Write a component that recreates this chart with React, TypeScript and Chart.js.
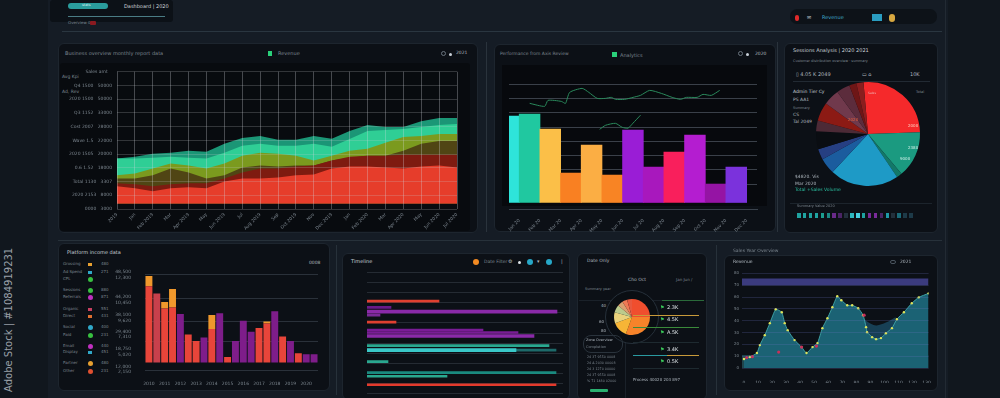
import React, { useEffect, useRef } from 'react';
import { Chart, registerables } from 'chart.js';
Chart.register(...registerables);

const FONT = "'DejaVu Sans', sans-serif";
const TXT = '#aeb6be';
const DIM = '#7c868f';

// ---------- Chart 1: layered areas ----------
const C1_LABELS = ['2019', 'Jan', 'Feb 2019', 'Mar', 'Apr 2019', 'May', 'Jun 2019', 'Jul', 'Aug 2019', 'Sep', 'Oct 2019', 'Nov', 'Dec 2019', 'Jan', 'Feb 2020', 'Mar', 'Apr 2020', 'May', 'Jun 2020', 'Jul 2020'];
const C1_RED = [1.65, 1.51, 1.29, 1.51, 1.58, 1.51, 2.01, 2.23, 2.23, 2.3, 2.45, 2.52, 2.95, 3.09, 3.09, 3.02, 2.95, 3.09, 3.17, 3.02];
const C1_DARKRED = [1.87, 1.8, 1.65, 1.8, 1.87, 1.87, 2.23, 2.66, 2.95, 2.95, 3.09, 3.17, 3.53, 3.81, 3.88, 3.88, 3.96, 3.96, 3.96, 3.96];
const C1_BROWN = [2.23, 2.23, 2.45, 2.95, 2.66, 2.23, 2.45, 3.02, 3.17, 3.09, 3.17, 3.17, 3.53, 3.74, 3.88, 3.88, 4.24, 4.75, 4.96, 4.96];
const C1_OLIVE = [2.45, 2.59, 2.95, 3.31, 3.17, 2.95, 3.31, 3.88, 4.1, 4.03, 3.88, 3.53, 3.88, 4.24, 4.39, 4.82, 5.25, 5.32, 5.47, 5.47];
const C1_GREEN = [3.67, 3.67, 3.74, 3.81, 3.74, 3.67, 4.1, 4.6, 4.75, 4.6, 4.6, 4.75, 4.53, 5.1, 5.68, 5.76, 5.83, 5.97, 6.12, 6.19];
const C1_TEAL = [3.67, 3.81, 4.03, 4.1, 4.24, 4.17, 4.75, 5.18, 5.32, 5.04, 5.04, 5.32, 5.11, 5.68, 6.12, 5.97, 5.97, 6.4, 6.62, 6.62];
const C1_Y_PREFIX = ['0000', '2020 2153', 'Total 1130', '0.6 1.52', '2020 1505', 'Wave 1.5', 'Cost 2007', 'Q3 1152', '2020 1500', 'Q4 1500', 'Sales amt'];
const C1_Y_VALUES = ['3000', '8000', '3307', '18000', '20000', '22000', '28000', '33000', '50000', '50000', ''];

// ---------- Chart 2: bars + line ----------
const C2_LABELS = ['Jan 20', 'Feb 20', 'Mar 20', 'Apr 20', 'May 20', 'Jun 20', 'Jul 20', 'Aug 20', 'Sep 20', 'Oct 20', 'Nov 20', 'Dec 20'];
const C2_VALUES = [5.76, 5.9, 4.85, 1.77, 3.73, 1.63, 4.78, 2.19, 3.24, 4.43, 1.0, 2.19];
const C2_COLORS = ['#2ee4da', '#20c8a0', '#fbbf48', '#f98022', '#fbae44', '#f88424', '#9a1dd6', '#a818bd', '#f91f5c', '#b41dd0', '#9514a4', '#7b32dc'];
const C2_LINE_X = [0, 18, 22, 38, 43, 48, 63, 71, 81, 91, 98, 103, 114, 124, 133, 144, 158, 171, 181, 188, 201, 208, 218, 228];
const C2_LINE_Y = [6.66, 6.45, 6.87, 6.8, 6.66, 7.43, 7.71, 7.43, 7.01, 7.01, 7.08, 6.94, 6.94, 7.08, 7.22, 7.57, 7.36, 7.08, 6.94, 7.08, 7.08, 7.29, 7.22, 7.57];
const C2_LINE2_X = [84, 91, 103, 111, 118, 124, 133];
const C2_LINE2_Y = [4.84, 5.12, 5.26, 4.98, 4.92, 5.27, 5.83];

// ---------- Chart 3: pie ----------
const C3_LABELS = ['Sales', 'Online', 'Retail', 'Direct', 'Partner', 'Export', 'Other', 'Service', 'Leasing', 'Support', 'Training', 'Licensing', 'Misc'];
const C3_VALUES = [93, 52, 6, 77, 18, 12, 20, 12, 21, 18, 15, 8, 8];
const C3_COLORS = ['#f5292b', '#1b9a80', '#137868', '#1e9ac6', '#1b5c9e', '#263f82', '#0a0d12', '#4c2a36', '#8c1a14', '#70394c', '#5c2c3c', '#6e1616', '#8a1e1e'];
const C3_SQUARES = ['#1fa3a0', '#1fa3a0', '#1fa3a0', '#1fa3a0', '#1b9e90', '#1a8a84', '#6a2a8a', '#4a2466', '#22303c', '#2cb8c0', '#47d0e0', '#1fa3a0', '#7a2a9a', '#7a2a9a', '#4a2466', '#1f9aa8', '#22303c', '#1a6a78', '#1d3a48', '#1d3a48'];

// ---------- Chart 4: stacked bars ----------
const C4_LABELS = ['2010', '', '2011', '', '2012', '', '2013', '', '2014', '', '2015', '', '2016', '', '2017', '', '2018', '', '2019', '', '2020', ''];
const C4_BASE = [82, 74, 58, 59, 52, 30, 23, 27, 36, 53, 6, 23, 45, 33, 37, 42, 55, 28, 23, 10, 9, 9];
const C4_CAP = [11, 0, 7, 20, 0, 0, 0, 0, 15, 0, 0, 0, 0, 0, 0, 2, 0, 0, 0, 0, 0, 0];
const C4_BASE_COLORS = ['#e8453a', '#c8404c', '#e8453a', '#e8453a', '#7e1d8a', '#e8453a', '#e8453a', '#7e1d8a', '#e8453a', '#7e1d8a', '#e8453a', '#7e1d8a', '#7e1d8a', '#7e1d8a', '#e8453a', '#e8453a', '#7e1d8a', '#e8453a', '#7e1d8a', '#e8453a', '#7e1d8a', '#7e1d8a'];
const C4_GRID = [-8, 23, 44, 69, 95];
const C4_TICK_POS = [94, 67.5, 48, 30, 11.5, -7.5];
const C4_TICK_TEXT = [['48,500', '12,300'], ['44,200', '10,450'], ['38,100', '9,620'], ['29,400', '7,310'], ['18,750', '5,020'], ['12,000', '2,150']];
const C4_LEGEND = [
  { label: 'Grossing', color: '#e8a030', shape: 'rect', value: '480' },
  { label: 'Ad Spend', color: '#30a8c8', shape: 'rect', value: '271' },
  { label: 'CPL', color: '#38c040', shape: 'dot', value: '' },
  { label: 'Sessions', color: '#38c040', shape: 'dot', value: '880' },
  { label: 'Referrals', color: '#c030c0', shape: 'dot', value: '871' },
  { label: 'Organic', color: '#c84060', shape: 'rect', value: '551' },
  { label: 'Direct', color: '#e07030', shape: 'rect', value: '431' },
  { label: 'Social', color: '#30a8c8', shape: 'dot', value: '400' },
  { label: 'Paid', color: '#38c040', shape: 'dot', value: '231' },
  { label: 'Email', color: '#c030c0', shape: 'dot', value: '440' },
  { label: 'Display', color: '#30a8c8', shape: 'rect', value: '451' },
  { label: 'Partner', color: '#e8a030', shape: 'dot', value: '480' },
  { label: 'Other', color: '#e05030', shape: 'dot', value: '231' },
];
const C4_LEGEND_Y = [264, 272, 279, 290, 297, 309, 316, 327, 335, 346, 352, 363, 371];

// ---------- Chart 5: horizontal timeline bars ----------
const C5_ROWS = ['01 3008', '02 1450', '03 2012', '04 1880', '05 2030', '06 1102', '07 2408', '08 3120', '09 1006', '10 2250', '11 1730', '12 2004', '13 1520', '14 2830', '15 1190', '16 2760', '17 1345', '18 2210', '19 1870', '20 2480', '21 1630', '22 2950'];
const C5_THIN_VAL = [72, 24, 13, 29, 116, 151, 182, 189, 21, 189, 80, 189];
const C5_THIN_ROW = [4.17, 5.4, 6.95, 8.35, 9.9, 10.4, 13.0, 13.9, 16.2, 18.4, 19.1, 20.8];
const C5_THIN_COL = ['#e04030', '#6a1a8a', '#7a2a98', '#e04030', '#7a1c96', '#7a1c96', '#2aa890', '#1d6a6a', '#2aa890', '#1a8a80', '#2aa890', '#e43a2c'];
const C5_THICK_VAL = [190, 167, 149];
const C5_THICK_ROW = [6.26, 11.1, 13.9];
const C5_THICK_COL = ['#8a2aa8', '#8a2aa8', '#3ac8c8'];

// ---------- Chart 6: small pie ----------
const C6_LABELS = ['A', 'B', 'C', 'D', 'E', 'F', 'G', 'H'];
const C6_VALUES = [90, 110, 50, 35, 25, 18, 16, 16];
const C6_COLORS = ['#f04e2e', '#f6832a', '#f7b536', '#e9d27c', '#bccb8c', '#dba070', '#ef7a55', '#e8583e'];
const C6_LIST = ['2.3K', '4.5K', 'A.5K', '3.4K', '0.5K'];
const C6_LIST_Y = [305, 317, 330, 347, 359];
const C6_ROWS = ['24 37 9550 0008', '24 A 2030 00008', '24 3 1270 00000', '24 37 9550 0008', '% 71 1480 02000'];

// ---------- Chart 7: area line ----------
const C7_XLABELS = ['0', '10', '20', '30', '40', '50', '60', '70', '80', '90', '100', '110', '120', '130'];
const C7_YLABELS = ['0', '10', '20', '30', '40', '50', '60', '70', '80'];
const C7_X = [0, 0.42, 0.92, 1.13, 1.48, 1.84, 2.26, 2.69, 2.9, 3.11, 3.6, 4.1, 4.45, 4.88, 5.23, 5.58, 5.94, 6.29, 6.64, 6.93, 7.35, 7.7, 8.13, 8.48, 8.69, 8.76, 9.12, 9.4, 9.75, 10.1, 10.53, 10.88, 11.38, 11.94, 12.44, 13.14];
const C7_Y = [9.5, 11.6, 15.8, 24.2, 34.7, 47.4, 62.1, 58.9, 47.4, 40, 29.5, 22.1, 15.8, 22.1, 26.3, 42.1, 52.6, 64.2, 75.8, 71.6, 66.3, 66.3, 63.2, 55.8, 43.2, 37.9, 32.6, 30.5, 31.6, 36.8, 42.1, 51.6, 58.9, 68.4, 74.7, 78.9];
const C7_BACK_X = [7.9, 8.69, 9.4, 10.1, 10.8];
const C7_BACK_Y = [64, 50, 45, 48, 54];
const C7_RED_X = [0.2, 0.6, 2.47, 4.1, 5.16, 8.55];
const C7_RED_Y = [11, 12, 16.8, 22.1, 23.2, 55.8];
const C7_BAND = [87.4, 94.7];
const C7_FLOOR = 13.7;

const base = {
  responsive: false,
  animation: false as const,
  devicePixelRatio: 1,
  plugins: { legend: { display: false }, tooltip: { enabled: false } },
};

function ChartBox({ x, y, w, h, make }: any) {
  const ref = useRef<HTMLCanvasElement>(null);
  useEffect(() => {
    const c = new Chart(ref.current as HTMLCanvasElement, make());
    return () => c.destroy();
  }, []);
  return <canvas ref={ref} width={w} height={h} style={{ position: 'absolute', left: x, top: y, width: w, height: h }} />;
}

function T({ x, y, s = 5, c = TXT, b = false, children, style }: any) {
  return (
    <div style={{ position: 'absolute', left: x, top: y, fontSize: s, lineHeight: 1, color: c, fontWeight: b ? 'bold' : 'normal', whiteSpace: 'nowrap', fontFamily: FONT, ...style }}>
      {children}
    </div>
  );
}

function R({ x, y, w, h, bg, r = 0, border, style }: any) {
  return <div style={{ position: 'absolute', left: x, top: y, width: w, height: h, background: bg, borderRadius: r, border, boxSizing: 'border-box', ...style }} />;
}

const tickFont = { size: 4.5, family: FONT };

function chart1() {
  const mk = (data: number[], color: string) => ({ data, backgroundColor: color, borderWidth: 0, fill: { value: 0.4 }, pointRadius: 0 });
  return {
    type: 'line',
    data: {
      labels: C1_LABELS,
      datasets: [
        mk(C1_RED, '#e63d2b'),
        mk(C1_DARKRED, '#7e1b10'),
        mk(C1_BROWN, '#504514'),
        mk(C1_OLIVE, '#7b9a1e'),
        mk(C1_GREEN, '#2fce95'),
        mk(C1_TEAL, '#1b9676'),
      ],
    },
    options: {
      ...base,
      layout: { padding: { top: 6, right: 8, left: 0, bottom: 0 } },
      elements: { line: { tension: 0 } },
      scales: {
        x: {
          offset: false,
          grid: { color: 'rgba(215,220,225,0.30)', z: 1, drawTicks: false },
          border: { display: false },
          ticks: { color: DIM, font: tickFont, maxRotation: 45, minRotation: 45, autoSkip: false, padding: 3 },
          afterFit: (s: any) => { s.height = 23; },
        },
        y: {
          min: 0, max: 10,
          grid: { color: 'rgba(200,205,210,0.22)', z: 1, drawTicks: false },
          border: { display: false },
          ticks: { stepSize: 1, color: DIM, font: tickFont, padding: 5, callback: (_v: any, i: number) => C1_Y_PREFIX[i] + '   ' + C1_Y_VALUES[i] },
          afterFit: (s: any) => { s.width = 57; },
        },
      },
    },
  };
}

function chart2() {
  return {
    type: 'bar',
    data: {
      labels: C2_LABELS,
      datasets: [
        { data: C2_VALUES, backgroundColor: C2_COLORS, base: -0.33, barThickness: 20.8, borderWidth: 0, order: 2 },
        { type: 'line', data: C2_LINE_X.map((x, i) => ({ x, y: C2_LINE_Y[i] })), xAxisID: 'x2', borderColor: '#2a8a5c', borderWidth: 1, pointRadius: 0, tension: 0.2, order: 1 },
        { type: 'line', data: C2_LINE2_X.map((x, i) => ({ x, y: C2_LINE2_Y[i] })), xAxisID: 'x2', borderColor: '#2a8a5c', borderWidth: 1, pointRadius: 0, tension: 0.2, order: 1 },
      ],
    },
    options: {
      ...base,
      layout: { padding: { top: 6, right: 11, left: 9, bottom: 0 } },
      scales: {
        x: {
          grid: { display: false },
          border: { display: false },
          ticks: { color: DIM, font: tickFont, maxRotation: 45, minRotation: 45, autoSkip: false, padding: 7 },
          afterFit: (s: any) => { s.height = 29; },
        },
        x2: { type: 'linear', min: 0, max: 248, display: false },
        y: {
          min: -0.33, max: 9, display: true,
          ticks: { display: false, stepSize: 1 },
          border: { display: false },
          grid: { drawTicks: false, color: (ctx: any) => (ctx.tick && ctx.tick.value >= 1 && ctx.tick.value <= 8 ? '#3a4049' : 'transparent') },
          afterFit: (s: any) => { s.width = 0; },
        },
      },
    },
  };
}

function chart3() {
  return {
    type: 'pie',
    data: { labels: C3_LABELS, datasets: [{ data: C3_VALUES, backgroundColor: C3_COLORS, borderWidth: 0 }] },
    options: { ...base, rotation: -5, layout: { padding: 4 } },
  };
}

function chart4() {
  return {
    type: 'bar',
    data: {
      labels: C4_LABELS,
      datasets: [
        { data: C4_BASE, backgroundColor: C4_BASE_COLORS, barPercentage: 0.88, categoryPercentage: 1, borderWidth: 0, stack: 's' },
        { data: C4_CAP, backgroundColor: '#f0982c', barPercentage: 0.88, categoryPercentage: 1, borderWidth: 0, stack: 's' },
      ],
    },
    options: {
      ...base,
      layout: { padding: { top: 4, right: 5, left: 0, bottom: 0 } },
      scales: {
        x: {
          stacked: true,
          grid: { display: false },
          border: { display: false },
          ticks: { color: DIM, font: tickFont, maxRotation: 0, autoSkip: false, padding: 3 },
          afterFit: (s: any) => { s.height = 16; },
        },
        y: {
          stacked: true, min: -8, max: 100, position: 'left',
          afterBuildTicks: (s: any) => { s.ticks = C4_GRID.map((v) => ({ value: v })); },
          ticks: { display: false },
          grid: { color: '#2a313a', drawTicks: false },
          border: { display: false },
          afterFit: (s: any) => { s.width = 0; },
        },
        y2: {
          min: -8, max: 100, position: 'left',
          afterBuildTicks: (s: any) => { s.ticks = C4_TICK_POS.map((v) => ({ value: v })); },
          ticks: { color: DIM, font: { size: 4.5, family: FONT }, padding: 6, callback: (_v: any, i: number) => C4_TICK_TEXT[i] },
          grid: { display: false },
          border: { display: false },
          afterFit: (s: any) => { s.width = 37; },
        },
      },
    },
  };
}

function chart5() {
  return {
    type: 'bar',
    data: {
      datasets: [
        { data: C5_THICK_VAL.map((v, i) => ({ x: v, y: C5_THICK_ROW[i] })), backgroundColor: C5_THICK_COL, barThickness: 3, grouped: false, borderWidth: 0 },
        { data: C5_THIN_VAL.map((v, i) => ({ x: v, y: C5_THIN_ROW[i] })), backgroundColor: C5_THIN_COL, barThickness: 2, grouped: false, borderWidth: 0 },
      ],
    },
    options: {
      ...base,
      indexAxis: 'y',
      layout: { padding: { top: 2, right: 2, left: 0, bottom: 2 } },
      scales: {
        x: { type: 'linear', min: 0, max: 196, display: false },
        y: {
          type: 'linear', min: -0.5, max: 21.5, reverse: true,
          ticks: { stepSize: 1, color: '#8a7880', font: { size: 4.5, family: FONT }, padding: 2, callback: (v: number) => (Number.isInteger(v) ? C5_ROWS[v] : '') },
          grid: { color: '#252b33', drawTicks: false },
          border: { display: false },
          afterFit: (s: any) => { s.width = 24; },
        },
      },
    },
  };
}

function chart6() {
  return {
    type: 'pie',
    data: { labels: C6_LABELS, datasets: [{ data: C6_VALUES, backgroundColor: C6_COLORS, borderWidth: 0 }] },
    options: { ...base, rotation: 0, layout: { padding: 2 } },
  };
}

function chart7() {
  const xmin = -0.14, xmax = 13.14;
  return {
    type: 'line',
    data: {
      datasets: [
        { data: C7_RED_X.map((x, i) => ({ x, y: C7_RED_Y[i] })), showLine: false, pointRadius: 1.6, pointBackgroundColor: '#c8305a', pointBorderWidth: 0 },
        { data: C7_X.map((x, i) => ({ x, y: C7_Y[i] })), borderColor: '#48b8b8', borderWidth: 0.8, backgroundColor: '#1b6274', fill: 'origin', pointRadius: 1.2, pointBackgroundColor: '#dfe35a', pointBorderWidth: 0, tension: 0.15 },
        { data: C7_BACK_X.map((x, i) => ({ x, y: C7_BACK_Y[i] })), borderWidth: 0, backgroundColor: '#173f55', fill: 'origin', pointRadius: 0, tension: 0.3 },
        { data: [{ x: xmin, y: C7_FLOOR }, { x: xmax, y: C7_FLOOR }], borderWidth: 0, backgroundColor: 'rgba(70,170,180,0.35)', fill: 'origin', pointRadius: 0 },
        { data: [{ x: xmin, y: C7_BAND[1] }, { x: xmax, y: C7_BAND[1] }], borderWidth: 0, backgroundColor: '#3b3b7e', fill: { value: C7_BAND[0] }, pointRadius: 0 },
      ],
    },
    options: {
      ...base,
      layout: { padding: { top: 5, right: 5, left: 0, bottom: 0 } },
      scales: {
        x: {
          type: 'linear', min: xmin, max: xmax,
          afterBuildTicks: (s: any) => { s.ticks = C7_XLABELS.map((_l, i) => ({ value: i })); },
          ticks: { color: DIM, font: { size: 4.5, family: FONT }, padding: 4, maxRotation: 0, callback: (v: number) => C7_XLABELS[Math.round(v)] },
          grid: { display: false },
          border: { display: false },
          afterFit: (s: any) => { s.height = 15; },
        },
        y: {
          min: 0, max: 100,
          ticks: { stepSize: 6.25, color: DIM, font: { size: 4, family: FONT }, padding: 3, callback: (v: number) => { const k = Math.round(v / 12.5); return Math.abs(v - k * 12.5) < 0.01 ? C7_YLABELS[k] : ''; } },
          grid: { color: 'rgba(110,120,200,0.22)', z: 1, drawTicks: false },
          border: { display: false },
          afterFit: (s: any) => { s.width = 15; },
        },
      },
    },
  };
}

const PANEL = '#0c1016';
const PBORDER = '1px solid #1d252e';

export default function App() {
  return (
    <div style={{ position: 'absolute', left: 0, top: 0, width: 1000, height: 398, background: '#11171e', overflow: 'hidden', fontFamily: FONT }}>
      <R x={48} y={0} w={900} h={398} bg="#151c25" />
      <T x={4} y={392} s={10} c="#9aa0a8" style={{ transform: 'rotate(-90deg)', transformOrigin: 'left top' }}>Adobe Stock | #1084919231</T>

      {/* top bar */}
      <R x={50} y={0} w={123} h={22} bg="#0c1117" r={3} />
      <R x={68} y={3} w={40} h={6} bg="#2a9c9c" r={3} />
      <T x={82} y={4} s={3.5} c="#d8f0f0">stats</T>
      <T x={124} y={4} s={5} c="#d0d6dc">Dashboard | 2020</T>
      <R x={68} y={16} w={97} h={1} bg="#4a7c84" />
      <T x={68} y={21} s={4} c={DIM}>Overview 0</T>
      <R x={90} y={21} w={6} h={4} bg="#8a1a20" r={1} />
      <R x={62} y={31} w={880} h={1} bg="#2a3640" />
      <R x={790} y={9} w={147} h={15} bg="#0d1218" r={7} />
      <R x={795} y={15} w={4} h={6} bg="#e02a2a" r={3} />
      <T x={807} y={15} s={5} c="#c0c8d0">✉</T>
      <T x={822} y={15} s={5} c="#40a8c8">Revenue</T>
      <R x={872} y={14} w={10} h={7} bg="#2a9cc0" />
      <R x={889} y={14} w={6} h={8} bg="#d8a840" r={4} />

      {/* Panel 1 */}
      <R x={58} y={43} w={420} h={190} bg={PANEL} r={6} border={PBORDER} />
      <R x={60} y={63} w={410} h={168} bg="#080b0f" r={3} />
      <T x={65} y={51} s={5} c={DIM}>Business overview monthly report data</T>
      <R x={268} y={51} w={4} h={5} bg="#2ad07a" />
      <T x={278} y={51} s={5} c={DIM}>Revenue</T>
      <R x={441} y={51} w={5} h={5} bg="transparent" r={3} border="1px solid #6a747e" />
      <R x={449} y={52.5} w={3} h={3} bg="#c8d0d8" r={2} />
      <T x={456} y={51} s={4.5} c={TXT}>2021</T>
      <T x={62} y={75} s={4.5} c={DIM}>Avg Kpi</T>
      <T x={62} y={90} s={4.5} c={DIM}>Ad, Rev</T>
      <ChartBox x={60} y={64} w={405} h={168} make={chart1} />

      <R x={486} y={42} w={1} h={190} bg="#2a333c" />

      {/* Panel 2 */}
      <R x={494} y={44} w={282} h={188} bg={PANEL} r={6} border={PBORDER} />
      <R x={502} y={65} w={265} h={141} bg="#07090d" />
      <T x={500} y={52} s={4.5} c={DIM}>Performance from Axis Review</T>
      <R x={612} y={52} w={5} h={5} bg="#2ad07a" />
      <T x={620} y={53} s={5} c={DIM}>Analytics</T>
      <R x={738} y={51} w={5} h={5} bg="transparent" r={3} border="1px solid #6a747e" />
      <R x={746} y={52.5} w={3} h={3} bg="#c8d0d8" r={2} />
      <T x={755} y={52} s={4.5} c={TXT}>2020</T>
      <R x={509} y={209} w={249} h={1} bg="#3a424c" />
      <ChartBox x={500} y={64} w={268} h={168} make={chart2} />
      <R x={777} y={42} w={1} h={190} bg="#2a333c" />

      {/* Panel 3 */}
      <R x={784} y={43} w={154} h={190} bg={PANEL} r={6} border={PBORDER} />
      <T x={793} y={48} s={5} c="#c8d0d8">Sessions Analysis | 2020 2021</T>
      <T x={793} y={60} s={3.5} c={DIM}>Customer distribution overview · summary</T>
      <T x={796} y={72} s={5} c={TXT}>▯ 4.05 K 2049</T>
      <T x={862} y={72} s={5} c={TXT}>▭ ⌂</T>
      <T x={910} y={72} s={5} c={TXT}>10K</T>
      <R x={793} y={81} w={137} h={1} bg="#222a33" />
      <T x={793} y={90} s={4.5} c="#c8d0d8">Admin Tier Cy</T>
      <T x={793} y={98} s={4.5} c={TXT}>PS   AA1</T>
      <T x={793} y={107} s={3.5} c={DIM}>Summary</T>
      <T x={793} y={113} s={4.5} c={TXT}>CS</T>
      <T x={793} y={120} s={4.5} c={TXT}>Tal 2049</T>
      <T x={916} y={91} s={3.5} c={DIM}>Total</T>
      <ChartBox x={812} y={78} w={112} h={112} make={chart3} />
      <T x={868} y={92} s={3} c="#f0b0b0">Sales</T>
      <T x={848} y={118} s={4} c="#e8603a">2020</T>
      <T x={908} y={124} s={4} c="#ffd0c0">2000</T>
      <T x={908} y={146} s={4} c="#d0f0e8">2380</T>
      <T x={900} y={157} s={4} c="#d0f0e8">9000</T>
      <T x={795} y={175} s={4.5} c={TXT}>$4820.  Vis</T>
      <T x={795} y={182} s={4.5} c={TXT}>Mar  2020</T>
      <T x={795} y={188} s={4.5} c="#2ac0a0">Total   +Sales Volume</T>
      <R x={790} y={203} w={142} h={1} bg="#1c242c" />
      <T x={797} y={205} s={3.5} c={DIM}>Summary Value  2020</T>
      {C3_SQUARES.map((c, i) => (
        <R key={i} x={797 + i * 5.9} y={213} w={3.5} h={5} bg={c} />
      ))}

      <R x={58} y={240} w={884} h={1} bg="#27313a" />

      {/* Panel 4 */}
      <R x={58} y={243} w={272} h={148} bg={PANEL} r={6} border={PBORDER} />
      <T x={67} y={250} s={5} c="#c8d0d8">Platform income data</T>
      <T x={309} y={261} s={4.5} c={TXT}>0008</T>
      {C4_LEGEND.map((l, i) => (
        <React.Fragment key={i}>
          <T x={63} y={C4_LEGEND_Y[i] - 2} s={4} c={DIM}>{l.label}</T>
          <R x={88} y={C4_LEGEND_Y[i] - (l.shape === 'dot' ? 2.5 : 1.5)} w={l.shape === 'dot' ? 5 : 4} h={l.shape === 'dot' ? 5 : 3} bg={l.color} r={l.shape === 'dot' ? 3 : 0} />
          <T x={101} y={C4_LEGEND_Y[i] - 2} s={4} c={DIM}>{l.value}</T>
        </React.Fragment>
      ))}
      <ChartBox x={108} y={258} w={215} h={128} make={chart4} />

      <R x={336} y={245} w={1} h={150} bg="#27313a" />

      {/* Panel 5 */}
      <R x={342} y={253} w={228} h={147} bg={PANEL} r={6} border={PBORDER} />
      <T x={351} y={259} s={5} c="#c8d0d8">Timeline</T>
      <R x={473} y={259} w={6} h={6} bg="#f28a22" r={3} />
      <T x={484} y={260} s={4.5} c={DIM}>Date Filter</T>
      <T x={508} y={259} s={5} c={TXT}>⚙</T>
      <R x={518} y={261} w={3} h={3} bg="#e0e6ea" r={2} />
      <R x={527} y={259} w={6} h={6} bg="#27a8c8" r={3} />
      <T x={537} y={259} s={5} c={TXT}>▾</T>
      <R x={546} y={259} w={6} h={6} bg="#27a8c8" r={3} />
      <T x={561} y={259} s={5} c={TXT}>|</T>
      <ChartBox x={343} y={268} w={222} h={130} make={chart5} />

      {/* Panel 6 */}
      <R x={577} y={253} w={130} h={147} bg={PANEL} r={6} border={PBORDER} />
      <T x={587} y={259} s={4.5} c={TXT}>Date Only</T>
      <T x={628} y={278} s={4.5} c={TXT}>Cho Oct</T>
      <T x={676} y={278} s={4} c={DIM}>Jan   Jun /</T>
      <T x={585} y={288} s={3.5} c={DIM}>Summary year</T>
      <R x={579} y={300} w={125} h={1} bg="#1a2129" />
      <R x={625} y={300} w={1} h={98} bg="#1a2129" />
      <R x={605} y={290} w={54} h={54} bg="#0a0e13" r={27} border="1px solid #26303a" />
      <ChartBox x={612} y={297} w={40} h={40} make={chart6} />
      <T x={601} y={304} s={4} c={TXT}>40</T>
      <T x={599} y={320} s={4} c={TXT}>60</T>
      <T x={601} y={329} s={4} c={TXT}>80</T>
      <R x={662} y={300} w={42} h={1} bg="#2a6a3a" />
      <R x={633} y={315} w={66} h={1} bg="#c89a3a" />
      <R x={633} y={327} w={66} h={1} bg="#3a8a3a" />
      <R x={633} y={342} w={66} h={1} bg="#1e2a30" />
      <R x={633} y={355} w={34} h={1} bg="#2a9aa0" />
      <R x={667} y={355} w={32} h={1} bg="#c89a3a" />
      <R x={633} y={368} w={66} h={1} bg="#1e2a30" />
      {C6_LIST.map((v, i) => (
        <React.Fragment key={i}>
          <T x={660} y={C6_LIST_Y[i]} s={5} c="#3ac85a">⚑</T>
          <T x={667} y={C6_LIST_Y[i]} s={5} c="#dfe6ea">{v}</T>
        </React.Fragment>
      ))}
      <R x={583} y={335} w={40} h={18} bg="transparent" r={8} border="1px solid #2a333c" />
      <T x={586} y={339} s={3.5} c={TXT}>Zone Overview</T>
      <T x={586} y={346} s={3.5} c={DIM}>Completion</T>
      {C6_ROWS.map((r, i) => (
        <T key={i} x={587} y={356 + i * 6} s={3.3} c={DIM}>{r}</T>
      ))}
      <R x={590} y={389} w={18} h={3} bg="#2ab070" r={1} />
      <T x={633} y={378} s={4} c={TXT}>Process   40020 203 897</T>

      <R x={716} y={245} w={1} h={150} bg="#27313a" />

      {/* Panel 7 */}
      <T x={733} y={249} s={4.5} c={DIM}>Sales Year Overview</T>
      <R x={724} y={255} w={214} h={136} bg={PANEL} r={6} border={PBORDER} />
      <T x={733} y={260} s={4.5} c={TXT}>Revenue</T>
      <R x={890} y={260} w={6} h={4} bg="transparent" r={2} border="1px solid #4a545e" />
      <T x={900} y={260} s={4.5} c={TXT}>2021</T>
      <ChartBox x={727} y={268} w={208} h={115} make={chart7} />

      <R x={945} y={0} w={1} h={398} bg="#222a33" />
    </div>
  );
}
